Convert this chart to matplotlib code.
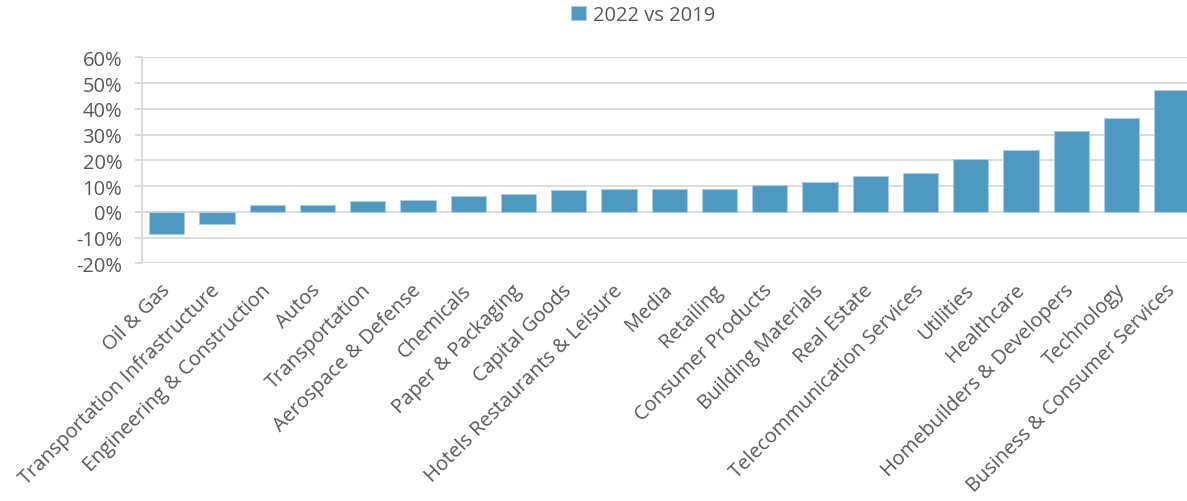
import matplotlib
matplotlib.use("Agg")
import matplotlib.pyplot as plt
from matplotlib.ticker import FuncFormatter, MultipleLocator

categories = [
    "Oil & Gas", "Transportation Infrastructure", "Engineering & Construction",
    "Autos", "Transportation", "Aerospace & Defense", "Chemicals",
    "Paper & Packaging", "Capital Goods", "Hotels Restaurants & Leisure",
    "Media", "Retailing", "Consumer Products", "Building Materials",
    "Real Estate", "Telecommunication Services", "Utilities", "Healthcare",
    "Homebuilders & Developers", "Technology", "Business & Consumer Services",
]
values = [-8.6, -4.9, 2.6, 2.8, 4.3, 4.5, 6.1, 7.0, 8.5, 8.7,
          8.7, 8.9, 10.6, 11.5, 13.8, 14.9, 20.4, 24.0, 31.5, 36.4, 47.2]
series_name = "2022 vs 2019"

plt.rcParams['font.family'] = ['Open Sans', 'DejaVu Sans']
txt = '#595959'
grid = '#d9d9d9'
bar_color = '#4E99C2'

W, H = 1187, 502
fig = plt.figure(figsize=(W / 100, H / 100), dpi=100)
left = 141.7 / W
right_px = 141.7 + 50.25 * len(categories)
ax = fig.add_axes([left, (H - 264.3) / H, (right_px - 141.7) / W, (264.3 - 58.3) / H])

x = list(range(len(categories)))
ax.bar(x, values, width=0.7, color=bar_color, edgecolor='#a9cde3', linewidth=0.8,
       zorder=3, label=series_name)
ax.set_xlim(-0.5, len(categories) - 0.5)
ax.set_ylim(-20, 60)
ax.yaxis.set_major_locator(MultipleLocator(10))
ax.yaxis.set_major_formatter(FuncFormatter(lambda v, p: f"{v:.0f}%"))
ax.grid(axis='y', color=grid, linewidth=1.3, zorder=0)
ax.set_axisbelow(True)
for s in ['top', 'right', 'bottom']:
    ax.spines[s].set_visible(False)
ax.spines['left'].set_color(grid)
ax.spines['left'].set_linewidth(1.3)
ax.tick_params(axis='y', colors=grid, labelcolor=txt, labelsize=14.5, length=5, width=1.3, pad=9)
ax.tick_params(axis='x', length=0, labelcolor=txt, labelsize=14.4, pad=17)
ax.set_xticks(x)
ax.set_xticklabels(categories, rotation=45, ha='right', va='center', rotation_mode='anchor')

leg = fig.legend(loc='center', bbox_to_anchor=(643 / W, 1 - 16 / H), frameon=False,
                 fontsize=14.5, labelcolor=txt, handlelength=0.75, handleheight=0.75,
                 handletextpad=0.35)

fig.savefig('out.png', dpi=100)
